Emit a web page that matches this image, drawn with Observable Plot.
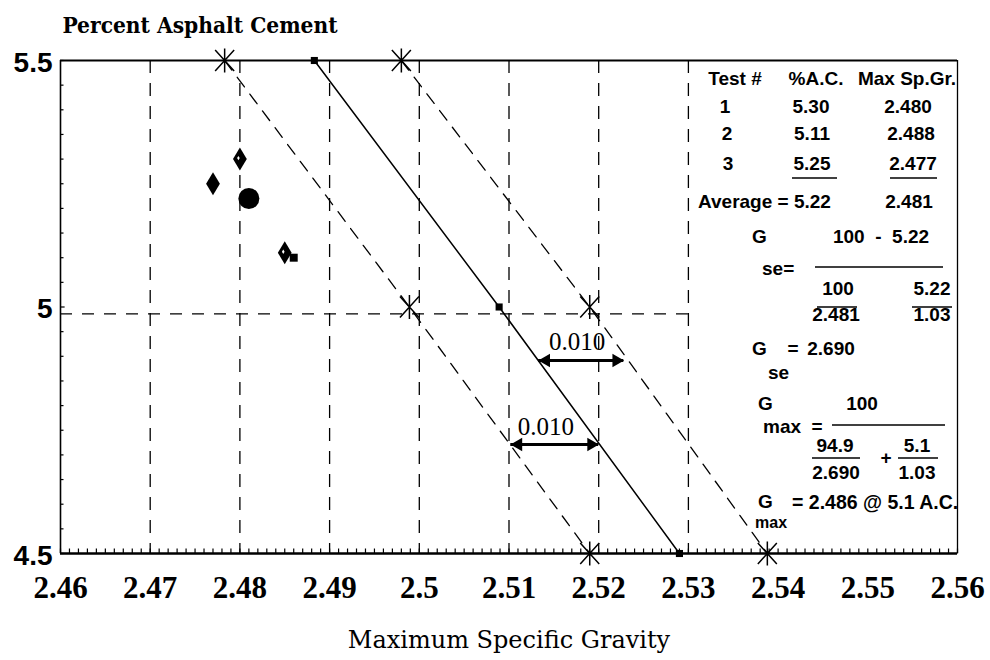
<!DOCTYPE html>
<html>
<head>
<meta charset="utf-8">
<script src="https://cdn.jsdelivr.net/npm/d3@7"></script>
<script src="https://cdn.jsdelivr.net/npm/@observablehq/plot@0.6"></script>
<style>
  html, body { margin: 0; padding: 0; background: #fff; }
  #chart svg { display: block; background: #fff; }
</style>
</head>
<body>
<div id="chart"></div>
<script>
// ---------- data ----------
const xTicks = [2.46, 2.47, 2.48, 2.49, 2.50, 2.51, 2.52, 2.53, 2.54, 2.55, 2.56];
const xTickLabels = ["2.46", "2.47", "2.48", "2.49", "2.5", "2.51", "2.52", "2.53", "2.54", "2.55", "2.56"];
const yTicks = [4.5, 5.0, 5.5];
const yTickLabels = ["4.5", "5", "5.5"];
const gridSG = [2.47, 2.48, 2.49, 2.50, 2.51, 2.52, 2.53];

const tests = [1, 2, 3];
const testAC = [5.30, 5.11, 5.25];          // % asphalt cement
const testSG = [2.480, 2.488, 2.477];       // max sp. gr. (table)
const plottedSG = [2.480, 2.485, 2.477];    // max sp. gr. as plotted
const avgAC = 5.22;
const avgSG = 2.481;
const gse = 2.690;
const gb = 1.03;
const gmaxSG = 2.486;
const gmaxAC = 5.1;

const lineAC = [5.5, 5.0, 4.5];
const centerSG = [2.4883, 2.5089, 2.5290];
const lowerSG = [2.4783, 2.4989, 2.5190];
const upperSG = [2.4980, 2.5190, 2.5388];
const refAC = 4.986;
const refFromSG = 2.46;
const refToSG = 2.53;

const arrowAC = [4.8915, 4.721];
const arrowFromSG = [2.5133, 2.5102];
const arrowToSG = [2.5228, 2.5200];
const arrowLabelSG = [2.5176, 2.5141];
const arrowLabels = ["0.010", "0.010"];

const minorX = d3.range(0, 101).map(i => +(2.46 + i / 1000).toFixed(3));
const minorY = d3.range(0, 21).map(i => +(4.5 + i * 0.05).toFixed(2));

// ---------- symbols ----------
const rad = size => Math.sqrt(size / Math.PI);
const star = {draw(c, size) { const r = rad(size); const v = 1.2 * r, a = 0.95 * r, b = 1.05 * r;
  c.moveTo(0, -v); c.lineTo(0, v); c.moveTo(-a, -b); c.lineTo(a, b); c.moveTo(a, -b); c.lineTo(-a, b); }};
const tallDiamond = {draw(c, size) { const r = rad(size);
  c.moveTo(0, -r); c.lineTo(0.6 * r, 0); c.lineTo(0, r); c.lineTo(-0.6 * r, 0); c.closePath(); }};
const vTick = {draw(c, size) { const r = rad(size); c.moveTo(0, 0); c.lineTo(0, -r); }};
const hTick = {draw(c, size) { const r = rad(size); c.moveTo(0, 0); c.lineTo(r, 0); }};

const idx3 = [0, 1, 2];
const idx2 = [0, 1];

// ---------- table inset (render function mark) ----------
function tableInset() {
  const g = d3.create("svg:g")
    .attr("font-family", "'Liberation Sans', Arial, sans-serif")
    .attr("font-weight", "bold")
    .attr("font-size", 19)
    .attr("fill", "black");
  const T = (s, x, y, anchor = "middle", size) => {
    const t = g.append("text").attr("x", x).attr("y", y).attr("text-anchor", anchor)
      .style("white-space", "pre").text(s);
    if (size) t.attr("font-size", size);
  };
  const L = (x1, x2, y) => g.append("line").attr("x1", x1).attr("x2", x2).attr("y1", y).attr("y2", y)
    .attr("stroke", "black").attr("stroke-width", 1.6);
  T("Test #", 735, 85); T("%A.C.", 816, 85); T("Max Sp.Gr.", 907, 85);
  const rowY = [113, 140, 170], numX = [725, 727, 728], acX = [811, 812, 812], sgX = [908, 911, 913];
  tests.forEach((t, i) => {
    T(String(t), numX[i], rowY[i]);
    T(testAC[i].toFixed(2), acX[i], rowY[i]);
    T(testSG[i].toFixed(3), sgX[i], rowY[i]);
  });
  L(792, 837, 178); L(890, 937, 178);
  T(`Average = ${avgAC.toFixed(2)}`, 698, 208, "start");
  T(avgSG.toFixed(3), 909, 208);
  // Gse formula
  T("G", 752, 243, "start");
  T(`100  -  ${avgAC.toFixed(2)}`, 881, 243);
  T("se=", 762, 275, "start");
  L(815, 943, 267);
  T("100", 838, 295); L(817, 857, 307); T(avgSG.toFixed(3), 836, 321);
  T(avgAC.toFixed(2), 932, 295); L(912, 952, 307); T(gb.toFixed(2), 932, 321);
  T("G", 752, 355, "start"); T("=", 793, 355); T(gse.toFixed(3), 831, 355);
  T("se", 768, 379, "start");
  // Gmax formula
  T("G", 758, 410, "start"); T("100", 862, 410);
  T("max", 763, 433, "start"); T("=", 817, 433);
  L(832, 945, 425);
  T((100 - gmaxAC).toFixed(1), 835, 452); L(812, 860, 458); T(gse.toFixed(3), 836, 479);
  T("+", 886, 464);
  T(gmaxAC.toFixed(1), 917, 452); L(898, 938, 458); T(gb.toFixed(2), 917, 479);
  T("G", 758, 508, "start");
  T(`= ${gmaxSG.toFixed(3)} @ ${gmaxAC.toFixed(1)} A.C.`, 792, 509, "start", 19.5);
  T("max", 755, 528, "start", 16);
  return g.node();
}

const serif = "'Liberation Serif', 'Times New Roman', serif";
const slabC = "'DejaVu Serif Condensed', 'DejaVu Serif', serif";
const slab = "'DejaVu Serif', serif";

const chart = Plot.plot({
  width: 990,
  height: 660,
  marginLeft: 60,
  marginRight: 33,
  marginTop: 60,
  marginBottom: 107,
  x: {domain: [2.46, 2.56], axis: null},
  y: {domain: [4.5, 5.5], axis: null},
  marks: [
    // grid
    Plot.ruleX(gridSG, {x: d => d, stroke: "black", strokeWidth: 1.3, strokeDasharray: "13,10"}),
    Plot.ruleY([refAC], {y: d => d, x1: refFromSG, x2: refToSG, stroke: "black", strokeWidth: 1.3, strokeDasharray: "12,10"}),
    // frame
    Plot.ruleY([5.5], {stroke: "black", strokeWidth: 2}),
    Plot.ruleY([4.5], {stroke: "black", strokeWidth: 2.5}),
    Plot.ruleX([2.46], {stroke: "black", strokeWidth: 1.6}),
    Plot.ruleX([2.56], {stroke: "black", strokeWidth: 1.3}),
    // minor ticks
    Plot.dot(minorX, {x: d => d, y: 4.5, symbol: vTick, r: 5, fill: "none", stroke: "black", strokeWidth: 1.2}),
    Plot.dot(minorY, {x: 2.46, y: d => d, symbol: hTick, r: d => (d === 5 ? 17 : 9), fill: "none", stroke: "black", strokeWidth: 1.2}),
    // lines
    Plot.line(idx3, {x: i => centerSG[i], y: i => lineAC[i], stroke: "black", strokeWidth: 1.5}),
    Plot.line(idx3, {x: i => lowerSG[i], y: i => lineAC[i], stroke: "black", strokeWidth: 1.3, strokeDasharray: "12,9"}),
    Plot.line(idx3, {x: i => upperSG[i], y: i => lineAC[i], stroke: "black", strokeWidth: 1.3, strokeDasharray: "12,9"}),
    Plot.dot(idx3, {x: i => centerSG[i], y: i => lineAC[i], symbol: "square", r: 4, fill: "black"}),
    Plot.dot(idx3, {x: i => lowerSG[i], y: i => lineAC[i], symbol: star, r: 10, fill: "none", stroke: "black", strokeWidth: 1.5}),
    Plot.dot(idx3, {x: i => upperSG[i], y: i => lineAC[i], symbol: star, r: 10, fill: "none", stroke: "black", strokeWidth: 1.5}),
    // arrows
    Plot.ruleY(idx2, {y: i => arrowAC[i], x1: i => arrowFromSG[i], x2: i => arrowToSG[i], stroke: "black", strokeWidth: 3}),
    Plot.dot(idx2, {x: i => arrowToSG[i], y: i => arrowAC[i], symbol: "triangle", rotate: 90, r: 5, fill: "black", dx: -7.5}),
    Plot.dot(idx2, {x: i => arrowFromSG[i], y: i => arrowAC[i], symbol: "triangle", rotate: -90, r: 5, fill: "black", dx: 7.5}),
    Plot.text(idx2, {x: i => arrowLabelSG[i], y: i => arrowAC[i], text: i => arrowLabels[i], dy: -10, lineAnchor: "bottom",
      fontFamily: serif, fontSize: 25, fill: "black"}),
    // test points
    Plot.dot(idx3, {x: i => plottedSG[i], y: i => testAC[i], symbol: tallDiamond, r: 11.5, fill: "black"}),
    Plot.dot([0, 1], {x: i => plottedSG[i], y: i => testAC[i], symbol: tallDiamond, r: 2.2, fill: "white", dx: -1.5, dy: -1}),
    Plot.dot([0], {x: avgSG, y: avgAC, r: 10.5, fill: "black"}),
    Plot.dot([0], {x: gmaxSG, y: gmaxAC, symbol: "square", r: 4.5, fill: "black"}),
    // tick labels
    Plot.text(xTicks, {x: d => d, frameAnchor: "bottom", text: (d, i) => xTickLabels[i], dy: 44, lineAnchor: "bottom",
      fontFamily: serif, fontWeight: "bold", fontSize: 31, fill: "black"}),
    Plot.text(yTicks, {y: d => d, frameAnchor: "left", text: (d, i) => yTickLabels[i], dx: -8, dy: 11, textAnchor: "end", lineAnchor: "bottom",
      fontFamily: "'Liberation Sans', Arial, sans-serif", fontWeight: "bold", fontSize: 28, fill: "black"}),
    // titles
    Plot.text(["Percent Asphalt Cement"], {frameAnchor: "top-left", dx: 2, dy: -28, textAnchor: "start", lineAnchor: "bottom",
      fontFamily: slabC, fontWeight: "bold", fontSize: 22.5, fill: "black"}),
    Plot.text(["Maximum Specific Gravity"], {frameAnchor: "bottom", dy: 94, lineAnchor: "bottom",
      fontFamily: slab, fontSize: 24, fill: "black"}),
    // table inset
    tableInset
  ]
});
document.getElementById("chart").appendChild(chart);
</script>
</body>
</html>
